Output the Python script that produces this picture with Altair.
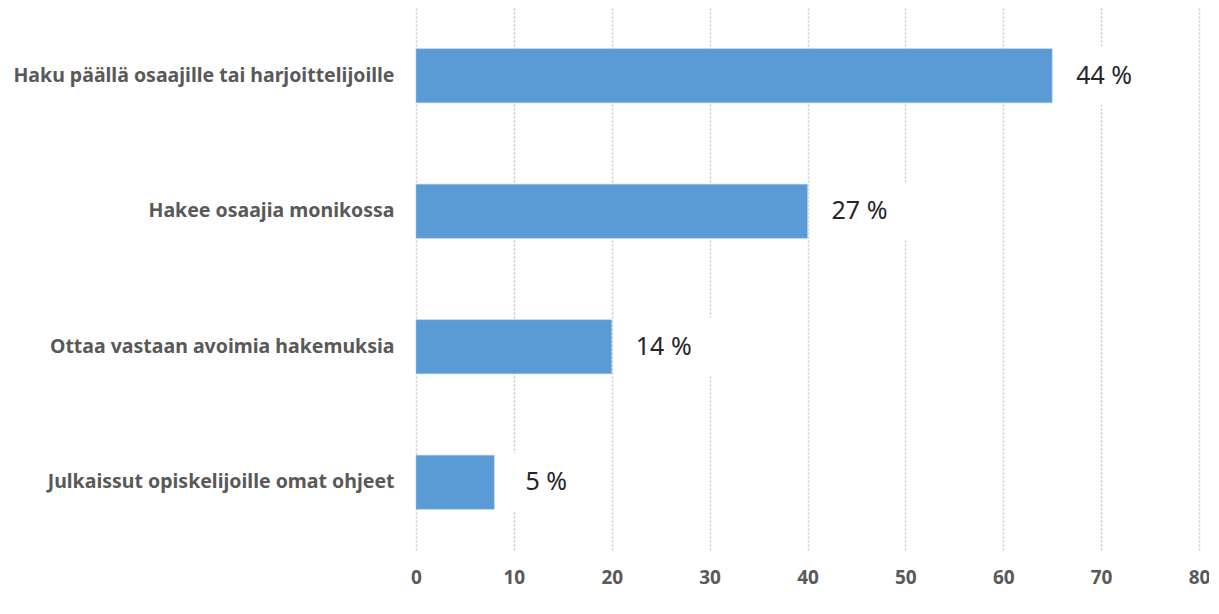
import altair as alt
import pandas as pd

categories = [
    "Haku päällä osaajille tai harjoittelijoille",
    "Hakee osaajia monikossa",
    "Ottaa vastaan avoimia hakemuksia",
    "Julkaissut opiskelijoille omat ohjeet",
]
bar_values = [65, 40, 20, 8]
labels = ["44 %", "27 %", "14 %", "5 %"]

df = pd.DataFrame({"cat": categories, "value": bar_values, "label": labels})

y = alt.Y("cat:N", sort=categories, title=None,
          scale=alt.Scale(paddingInner=0.6, paddingOuter=0.3),
          axis=alt.Axis(domain=False, ticks=False, labelPadding=22, labelFontSize=19.5,
                        labelFontWeight="bold", labelColor="#595959", labelFont="Noto Sans",
                        labelLimit=500))
x = alt.X("value:Q", title=None, scale=alt.Scale(domain=[0, 80]),
          axis=alt.Axis(values=list(range(0, 81, 10)), domain=False, ticks=False,
                        labelFlush=False,
                        labelPadding=18, labelFontSize=19, labelFontWeight="bold",
                        labelColor="#595959", labelFont="Noto Sans",
                        grid=True, gridColor="#c8c8c8", gridDash=[2, 2], gridWidth=1.5))

base = alt.Chart(df)
bars = base.mark_bar(color="#5B9BD5", stroke="#a9c9ea", strokeWidth=0.5).encode(x=x, y=y)
boxes = base.mark_bar(color="white", size=58, xOffset=4, x2Offset=100).encode(
    x="value:Q", x2="value:Q", y=alt.Y("cat:N", sort=categories))
text = base.mark_text(align="center", baseline="middle", dx=52, fontSize=25,
                      font="Noto Sans", color="#262626").encode(
    x="value:Q", y=alt.Y("cat:N", sort=categories), text="label:N")

chart = alt.layer(bars, boxes, text).properties(
    width=783, height=542,
    autosize=alt.AutoSizeParams(type="none"),
    padding={"left": 408, "top": 0, "right": 10, "bottom": 60},
).configure_view(stroke=None)

chart.save("out.html", embed_options={"renderer": "svg", "actions": False})
